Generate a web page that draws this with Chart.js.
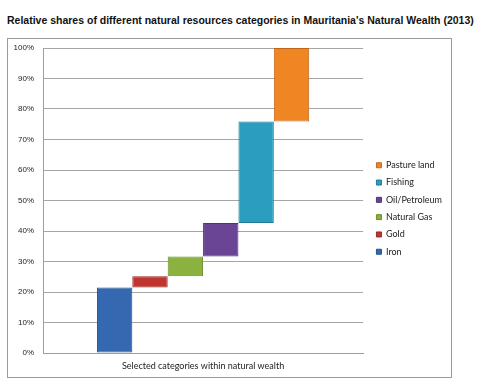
<!DOCTYPE html>
<html>
<head>
<meta charset="utf-8">
<script src="https://cdn.jsdelivr.net/npm/chart.js@4"></script>
<style>
  html, body { margin: 0; padding: 0; background: #fff; }
  body { width: 500px; height: 386px; position: relative; overflow: hidden; }
  #title { position: absolute; left: 7px; top: 14px; font-family: "Liberation Sans", Arial, sans-serif; font-weight: bold; font-size: 10.5px; color: #111; white-space: nowrap; }
  #box { position: absolute; left: 7px; top: 38px; width: 443px; height: 338px; border: 1px solid #9a9a9a; }
  #box canvas { display: block; }
</style>
</head>
<body>
<div id="title">Relative shares of different natural resources categories in Mauritania's Natural Wealth (2013)</div>
<div id="box"><canvas id="c" width="443" height="338"></canvas></div>
<script>
const categories = ['Selected categories within natural wealth'];
const seriesNames = ['Iron', 'Gold', 'Natural Gas', 'Oil/Petroleum', 'Fishing', 'Pasture land'];
const shares = [21.5, 3.7, 6.4, 11.0, 33.3, 24.1];
const seriesColors = ['#3468B0', '#C0352F', '#8BB13F', '#6A4596', '#2B9EC0', '#F08523'];
const seriesBorders = ['#25508A', '#962622', '#6A8A2C', '#4F3272', '#1F7A95', '#C0661A'];
const yTicks = [0, 10, 20, 30, 40, 50, 60, 70, 80, 90, 100];

let running = 0;
const datasets = seriesNames.map((name, i) => {
  const start = running;
  running += shares[i];
  return {
    label: name,
    data: [[start, running]],
    backgroundColor: seriesColors[i],
    borderColor: seriesBorders[i],
    borderWidth: 1,
    borderSkipped: false,
    categoryPercentage: 0.663,
    barPercentage: 1.0
  };
});

const legendShift = {
  id: 'legendShift',
  afterLayout(chart) {
    const lg = chart.legend;
    if (!lg) return;
    lg.left += 5; lg.right += 5;
    lg.top -= 4; lg.bottom -= 4;
  }
};

new Chart(document.getElementById('c'), {
  type: 'bar',
  data: { labels: categories, datasets },
  plugins: [legendShift],
  options: {
    responsive: false,
    animation: false,
    layout: { padding: { top: 9, right: 4, bottom: 0, left: 0 } },
    plugins: {
      title: { display: false },
      tooltip: { enabled: false },
      legend: {
        position: 'right',
        reverse: true,
        labels: {
          boxWidth: 5,
          boxHeight: 5,
          padding: 8.3,
          color: '#222',
          font: { family: 'Lato, "Open Sans", sans-serif', size: 9 }
        }
      }
    },
    scales: {
      x: {
        afterFit: (s) => { s.height = 24; },
        grid: { display: false, drawTicks: false },
        border: { display: true, color: '#9e9e9e' },
        ticks: { color: '#222', padding: 8, font: { family: 'Lato, "Open Sans", sans-serif', size: 9 } }
      },
      y: {
        min: 0, max: 100,
        afterBuildTicks: (s) => { s.ticks = yTicks.map(v => ({ value: v })); },
        afterFit: (s) => { s.width = 35; s.paddingTop = 0; },
        grid: { color: '#a6a6a6', drawTicks: false },
        border: { display: true, color: '#9e9e9e' },
        ticks: { color: '#222', padding: 9, callback: (v) => v + '%', font: { family: '"Liberation Sans", Arial, sans-serif', size: 8 } }
      }
    }
  }
});
</script>
</body>
</html>
